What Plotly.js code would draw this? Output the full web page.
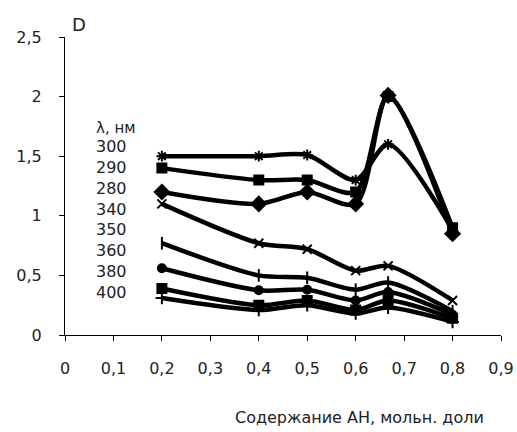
<!DOCTYPE html>
<html><head><meta charset="utf-8">
<script src="https://cdn.plot.ly/plotly-3.0.1.min.js"></script>
<style>html,body{margin:0;padding:0;background:#fff}#c{width:517px;height:432px}</style>
</head><body><div id="c"></div>
<script>
const xVals = [0.2, 0.4, 0.5, 0.6, 0.667, 0.8];
const names = ["300", "290", "280", "340", "350", "360", "380", "400"];
const s300 = [1.5, 1.5, 1.51, 1.3, 1.6, 0.88];
const s290 = [1.4, 1.3, 1.3, 1.2, 2.0, 0.9];
const s280 = [1.2, 1.1, 1.2, 1.1, 2.01, 0.85];
const s340 = [1.1, 0.77, 0.72, 0.54, 0.58, 0.29];
const s350 = [0.77, 0.5, 0.48, 0.38, 0.44, 0.2];
const s360 = [0.56, 0.375, 0.38, 0.29, 0.36, 0.17];
const s380 = [0.39, 0.25, 0.29, 0.21, 0.29, 0.14];
const s400 = [0.31, 0.21, 0.25, 0.18, 0.23, 0.11];
const series = [s300, s290, s280, s340, s350, s360, s380, s400];
const symbols = ["asterisk-open", "square", "diamond", "x-thin-open", "line-ns-open", "circle", "square", "cross-thin-open"];
const sizes = [9, 9, 11, 9, 9, 8, 9, 9];
const legendTitle = "λ, нм";
const xTitle = "Содержание АН, мольн. доли";
const yTitle = "D";

const font = "DejaVu Sans, Verdana, sans-serif";
const tcol = "#222";
const traces = series.map((ys, i) => ({
  x: xVals, y: ys, name: names[i], type: "scatter", mode: "lines+markers",
  line: {color: "#000", width: 4.5, shape: "spline", smoothing: 0.8},
  marker: {symbol: symbols[i], size: sizes[i], color: "#000", line: {color: "#000", width: 2}},
  showlegend: false
}));

const annotations = [];
const lx = 0.06, ly0 = 1.735, dy = 0.176;
annotations.push({x: lx, y: ly0, xref: "x", yref: "y", text: legendTitle, showarrow: false,
  xanchor: "left", yanchor: "middle", font: {family: font, size: 15, color: tcol}});
names.forEach((n, i) => annotations.push({x: lx, y: ly0 - 0.15 - dy * i, xref: "x", yref: "y", text: n,
  showarrow: false, xanchor: "left", yanchor: "middle", font: {family: font, size: 16, color: tcol}}));
annotations.push({x: (359 - 65) / 436, y: -(418 - 335) / 300, xref: "paper", yref: "paper", text: xTitle, showarrow: false,
  xanchor: "center", yanchor: "middle", font: {family: font, size: 16, color: tcol}});
annotations.push({x: 0.01, y: 2.5, xref: "x", yref: "y", text: yTitle, showarrow: false,
  xanchor: "left", yanchor: "bottom", yshift: 0, font: {family: font, size: 18, color: tcol}});

const layout = {
  width: 517, height: 432, paper_bgcolor: "#fff", plot_bgcolor: "#fff",
  margin: {l: 65, r: 16, t: 37, b: 97},
  separators: ", ",
  font: {family: font, size: 16, color: tcol},
  xaxis: {range: [0, 0.9], dtick: 0.1, tick0: 0, showgrid: false, zeroline: false, showline: true,
    linecolor: "#000", linewidth: 1, ticks: "outside", ticklen: 5, tickcolor: "#000",
    ticklabelstandoff: 14, tickfont: {family: font, size: 16, color: tcol}},
  yaxis: {range: [0, 2.5], dtick: 0.5, tick0: 0, showgrid: false, zeroline: false, showline: true,
    linecolor: "#000", linewidth: 1, ticks: "outside", ticklen: 5, tickcolor: "#000",
    ticklabelstandoff: 14, tickfont: {family: font, size: 16, color: tcol}},
  annotations: annotations
};
Plotly.newPlot("c", traces, layout, {staticPlot: true, displayModeBar: false});
</script></body></html>
